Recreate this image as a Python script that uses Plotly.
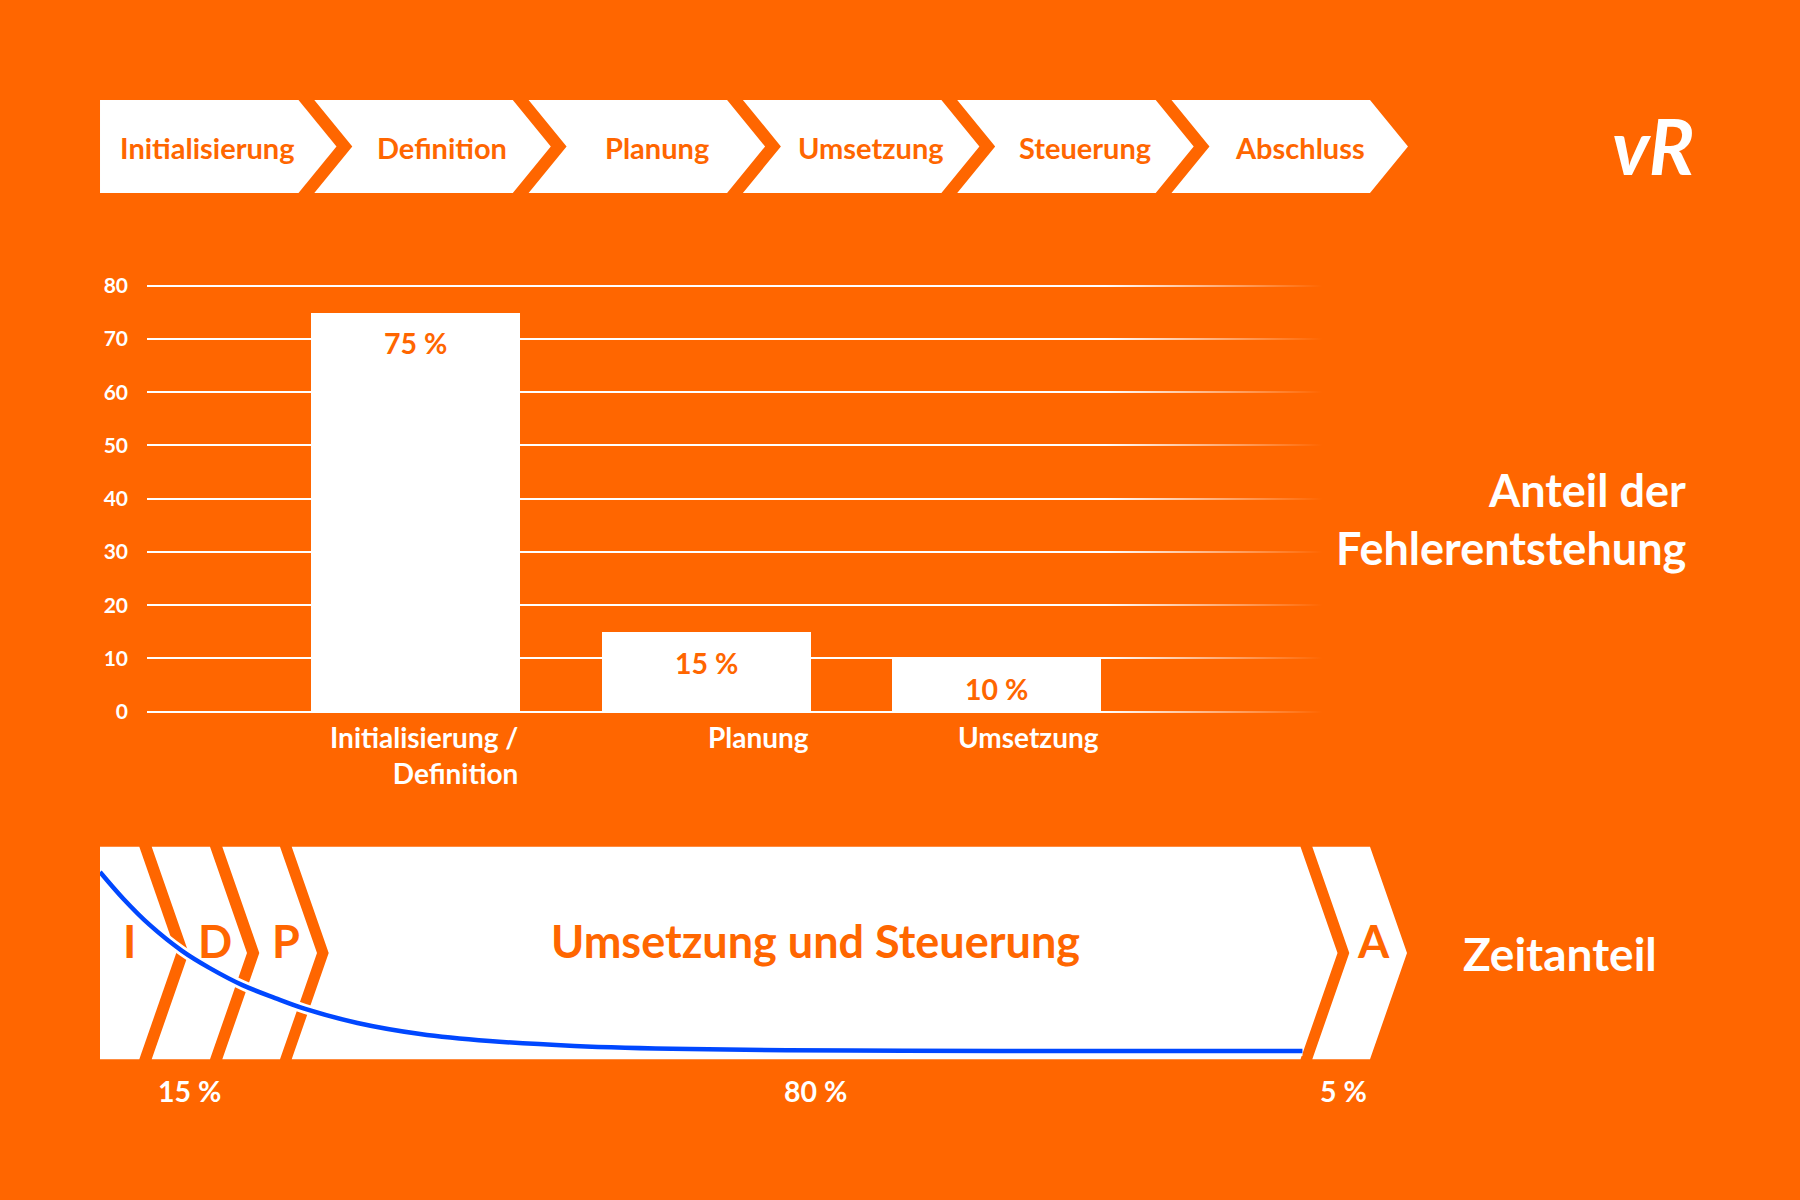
import plotly.graph_objects as go

# ---------------- data ----------------
phases = ["Initialisierung", "Definition", "Planung", "Umsetzung", "Steuerung", "Abschluss"]
error_categories = ["Initialisierung /<br>Definition", "Planung", "Umsetzung"]
error_share = [75, 15, 10]
y_ticks = [0, 10, 20, 30, 40, 50, 60, 70, 80]

time_letters = ["I", "D", "P", "Umsetzung und Steuerung", "A"]
time_groups = ["15 %", "80 %", "5 %"]
time_share = [15, 80, 5]

# schematic error-cost curve (time % vs relative level)
curve_t = [0, 1.8, 3.8, 6.3, 8.4, 10.9, 13.4, 15.7, 19.7, 24.5, 29.8, 36.3, 45.1, 57.4, 68.9, 92.0]
curve_v = [88.1, 75.4, 63.2, 50.9, 42.9, 34.9, 28.8, 23.7, 17.1, 11.9, 8.6, 6.3, 4.8, 4.1, 3.9, 3.9]

# ---------------- style ----------------
ORANGE = "#FF6600"
WHITE = "#FFFFFF"
BLUE = "#0047FF"
FONT = "Lato"
W, H = 1800, 1200


def px(x):
    return x / W


def py(y):
    return 1 - y / H


def path(points):
    return "M " + " L ".join(f"{px(x):.5f},{py(y):.5f}" for x, y in points) + " Z"


def label(x, y, text, size, color, xanchor="center", **kw):
    return dict(x=px(x), y=py(y), xref="paper", yref="paper", text=text, showarrow=False,
                xanchor=xanchor, yanchor="middle",
                font=dict(family=FONT, size=size, color=color, weight="bold", **kw))


shapes = []
annotations = []

# ---- top process chevrons ----
top_y0, top_y1 = 100, 193
top_mid = (top_y0 + top_y1) / 2
period = 214.3
body = 198.5
dx_top = 38
for k, name in enumerate(phases):
    xl = 100 + period * k
    xr = xl + body
    pts = [(xl, top_y0), (xr, top_y0), (xr + dx_top, top_mid), (xr, top_y1), (xl, top_y1)]
    if k > 0:
        pts.append((xl + dx_top, top_mid))
    shapes.append(dict(type="path", path=path(pts), xref="paper", yref="paper",
                       fillcolor=WHITE, line=dict(width=0), layer="below"))
    cx = 207 if k == 0 else xl + 128
    annotations.append(label(cx, top_mid + 1, name, 29, ORANGE))

# ---- bottom time chevrons ----
bot_y0, bot_y1 = 846.7, 1059.3
bot_mid = 953
dx_bot = 37
segs = [(100, 139.3), (151.7, 210), (222.3, 280), (291.7, 1300.5), (1312.3, 1370)]
letter_pos = [(129, 941), (215, 941), (285.5, 941), (815, 941), (1373, 941)]
for i, ((xl, xr), letter) in enumerate(zip(segs, time_letters)):
    pts = [(xl, bot_y0), (xr, bot_y0), (xr + dx_bot, bot_mid), (xr, bot_y1), (xl, bot_y1)]
    if i > 0:
        pts.append((xl + dx_bot, bot_mid))
    shapes.append(dict(type="path", path=path(pts), xref="paper", yref="paper",
                       fillcolor=WHITE, line=dict(width=0), layer="below"))
    lx, ly = letter_pos[i]
    annotations.append(label(lx, ly, letter, 45, ORANGE))

for txt, cx in zip(time_groups, [189.5, 815, 1343]):
    annotations.append(label(cx, 1091, txt, 28.5, WHITE))

# ---- side titles ----
annotations.append(label(1688, 490, "Anteil der", 45, WHITE, xanchor="right"))
annotations.append(label(1688, 547.6, "Fehlerentstehung", 45, WHITE, xanchor="right"))
annotations.append(label(1560, 953, "Zeitanteil", 46, WHITE))

# ---- logo ----
annotations.append(label(1653, 145, "vR", 76, WHITE, style="italic"))

# ---- bar chart ----
fig = go.Figure()
fig.add_trace(go.Bar(x=error_categories, y=error_share, marker=dict(color=WHITE, line=dict(width=0)),
                     width=0.7195, hoverinfo="skip", xaxis="x", yaxis="y"))

for cat, v in zip(error_categories, error_share):
    annotations.append(dict(x=cat, y=v, xref="x", yref="y", text=f"{v} %", showarrow=False,
                            xanchor="center", yanchor="middle", yshift=-31,
                            font=dict(family=FONT, size=28.5, color=ORANGE, weight="bold")))
    annotations.append(dict(x=cat, y=0, xref="x", yref="y", text=cat, showarrow=False,
                            xanchor="right", yanchor="top", align="right", xshift=104.5, yshift=-6,
                            font=dict(family=FONT, size=28, color=WHITE, weight="bold")))

# fade-out of grid lines on the right
fig.add_trace(go.Scatter(x=[1105, 1322, 1322, 1105, 1105], y=[265, 265, 725, 725, 265],
                         fill="toself", mode="lines", line=dict(width=0),
                         fillgradient=dict(type="horizontal",
                                           colorscale=[[0, "rgba(255,102,0,0)"], [1, "rgba(255,102,0,1)"]]),
                         hoverinfo="skip", showlegend=False, xaxis="x2", yaxis="y2"))

# curve on the time track
fig.add_trace(go.Scatter(x=curve_t, y=curve_v, mode="lines", line=dict(color=WHITE, width=10, shape="spline"),
                         hoverinfo="skip", showlegend=False, xaxis="x3", yaxis="y3"))
fig.add_trace(go.Scatter(x=curve_t, y=curve_v, mode="lines", line=dict(color=BLUE, width=4.5, shape="spline"),
                         hoverinfo="skip", showlegend=False, xaxis="x3", yaxis="y3"))

ppu = (711.7 - 285.7) / 80.0
y_top = 80.6
fig.update_layout(
    width=W, height=H, margin=dict(l=0, r=0, t=0, b=0, autoexpand=False),
    paper_bgcolor=ORANGE, plot_bgcolor="rgba(0,0,0,0)",
    showlegend=False, bargap=0,
    shapes=shapes, annotations=annotations,
    xaxis=dict(domain=[px(147), px(1322)], range=[-0.924, 3.12], type="category",
               showticklabels=False, showgrid=False, zeroline=False, showline=False, ticks=""),
    yaxis=dict(domain=[py(711.7), py(711.7 - y_top * ppu)], range=[0, y_top], tickvals=y_ticks,
               showgrid=True, gridcolor=WHITE, gridwidth=2,
               zeroline=True, zerolinecolor=WHITE, zerolinewidth=2,
               showline=False, ticks="", ticklabelstandoff=18,
               tickfont=dict(family=FONT, size=21, color=WHITE, weight="bold")),
    xaxis2=dict(domain=[0, 1], range=[0, W], visible=False, anchor="y2"),
    yaxis2=dict(domain=[0, 1], range=[H, 0], visible=False, anchor="x2"),
    xaxis3=dict(domain=[px(100), px(1407)], range=[0, 100], visible=False, anchor="y3"),
    yaxis3=dict(domain=[py(1059.3), py(846.7)], range=[0, 100], visible=False, anchor="x3"),
)

fig.write_html("out.html")
